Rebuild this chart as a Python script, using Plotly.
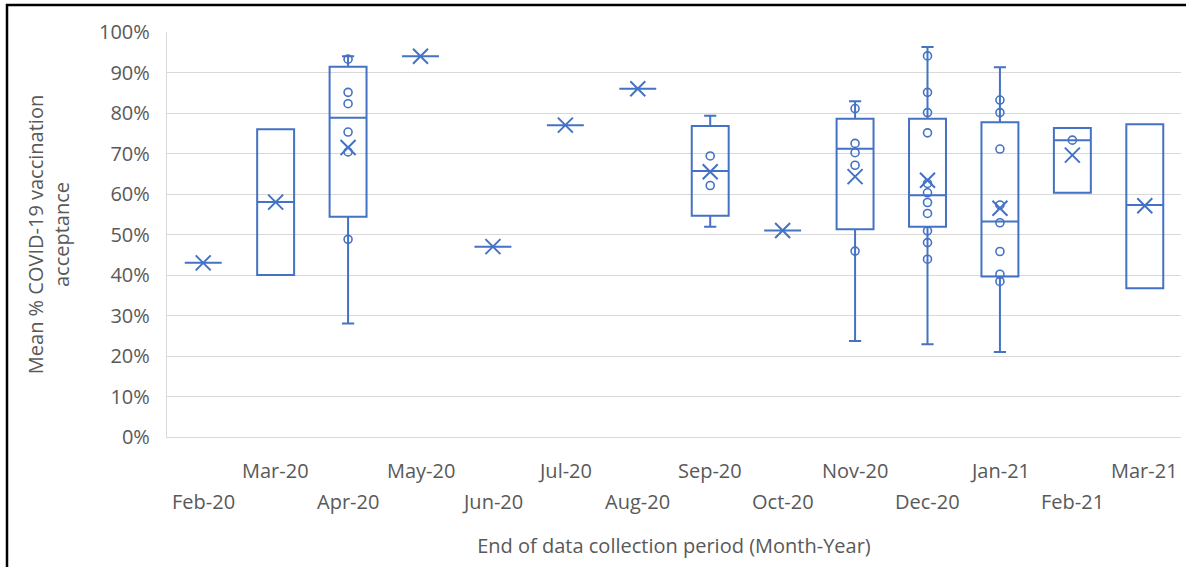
import plotly.graph_objects as go

categories = ["Feb-20", "Mar-20", "Apr-20", "May-20", "Jun-20", "Jul-20", "Aug-20",
              "Sep-20", "Oct-20", "Nov-20", "Dec-20", "Jan-21", "Feb-21", "Mar-21"]

# box statistics (percent)
q1_vals     = [43, 40, 54.4, 94, 47, 77, 86, 54.6, 51, 51.3, 51.9, 39.6, 60.3, 36.7]
median_vals = [43, 58, 78.8, 94, 47, 77, 86, 65.7, 51, 71.2, 59.7, 53.2, 73.3, 57.3]
q3_vals     = [43, 76, 91.4, 94, 47, 77, 86, 76.8, 51, 78.6, 78.6, 77.7, 76.3, 77.2]
lower_vals  = [43, 40, 28, 94, 47, 77, 86, 51.9, 51, 23.7, 22.9, 21, 60.3, 36.7]
upper_vals  = [43, 76, 94, 94, 47, 77, 86, 79.3, 51, 82.9, 96.3, 91.3, 76.3, 77.2]
mean_vals   = [43, 58, 71.5, 94, 47, 77, 86, 65.5, 51, 64.3, 63.4, 56.5, 69.6, 57.1]

# visible inner points per category (percent)
points_apr20 = [93.3, 85.1, 82.3, 75.3, 70.4, 48.8]
points_sep20 = [69.4, 62.1]
points_nov20 = [81.1, 72.5, 70.2, 67.1, 45.9]
points_dec20 = [94.1, 85.1, 80.1, 75.1, 62.6, 60.3, 57.9, 55.2, 50.9, 48.0, 43.9]
points_jan21 = [83.2, 80.1, 71.1, 57.3, 52.9, 45.8, 40.2, 38.4]
points_feb21 = [73.3]

point_groups = [("Apr-20", points_apr20), ("Sep-20", points_sep20), ("Nov-20", points_nov20),
                ("Dec-20", points_dec20), ("Jan-21", points_jan21), ("Feb-21", points_feb21)]

y_ticks = list(range(0, 101, 10))

BLUE = "#4472C4"
GRAY = "#595959"
FONT = "Open Sans"

fig = go.Figure()

fig.add_trace(go.Box(
    x=categories, q1=q1_vals, median=median_vals, q3=q3_vals,
    lowerfence=lower_vals, upperfence=upper_vals,
    boxpoints=False, width=0.51, whiskerwidth=0.33,
    line=dict(color=BLUE, width=2), fillcolor="rgba(255,255,255,0)",
    showlegend=False, hoverinfo="skip",
))

px_, py_ = [], []
for cat, vals in point_groups:
    for v in vals:
        px_.append(cat)
        py_.append(v)

fig.add_trace(go.Scatter(
    x=px_, y=py_, mode="markers", showlegend=False,
    marker=dict(symbol="circle-open", size=8, color=BLUE, line=dict(color=BLUE, width=1.6)),
))

fig.add_trace(go.Scatter(
    x=categories, y=mean_vals, mode="markers", showlegend=False,
    marker=dict(symbol="x-thin", size=15, color=BLUE, line=dict(color=BLUE, width=2)),
))

# staggered category labels
annotations = []
for i, cat in enumerate(categories):
    annotations.append(dict(
        x=cat, xref="x", y=0, yref="paper", yanchor="middle", xanchor="center",
        yshift=-33 if i % 2 == 1 else -64, showarrow=False, text=cat,
        font=dict(family=FONT, size=20, color=GRAY),
    ))

L, R, T, B = 167, 5, 32, 130
W, H = 1186, 567
pw, ph = W - L - R, H - T - B

fig.update_layout(
    width=W, height=H,
    margin=dict(l=L, r=R, t=T, b=B),
    paper_bgcolor="white", plot_bgcolor="white",
    font=dict(family=FONT, size=20, color=GRAY),
    annotations=annotations,
    shapes=[dict(type="rect", xref="paper", yref="paper",
                 x0=(7 - L) / pw, x1=(W + 10 - L) / pw,
                 y0=(T + ph - (H + 10)) / ph, y1=(T + ph - 5) / ph,
                 line=dict(color="black", width=2.5), fillcolor="rgba(0,0,0,0)", layer="below")],
    xaxis=dict(
        type="category", categoryorder="array", categoryarray=categories,
        range=[-0.5, len(categories) - 0.5],
        showticklabels=False, showgrid=False, zeroline=False,
        showline=True, linecolor="#D9D9D9", linewidth=1.3, ticks="",
        title=dict(text="End of data collection period (Month-Year)",
                   font=dict(family=FONT, size=20, color=GRAY), standoff=101),
    ),
    yaxis=dict(
        range=[0, 100], tickvals=y_ticks, ticktext=[f"{v}%" for v in y_ticks],
        showgrid=True, gridcolor="#D9D9D9", gridwidth=1.3,
        zeroline=False, showline=True, linecolor="#D9D9D9", linewidth=1.3,
        ticks="", ticklabelstandoff=12,
        tickfont=dict(family=FONT, size=20, color=GRAY),
        title=dict(text="Mean % COVID-19 vaccination<br>acceptance",
                   font=dict(family=FONT, size=20, color=GRAY), standoff=24),
    ),
)

fig.write_html(
    "out.html",
    config={"displayModeBar": False},
    post_script="document.body.style.margin='0';document.body.style.padding='0';"
                "document.body.style.overflow='hidden';",
)
